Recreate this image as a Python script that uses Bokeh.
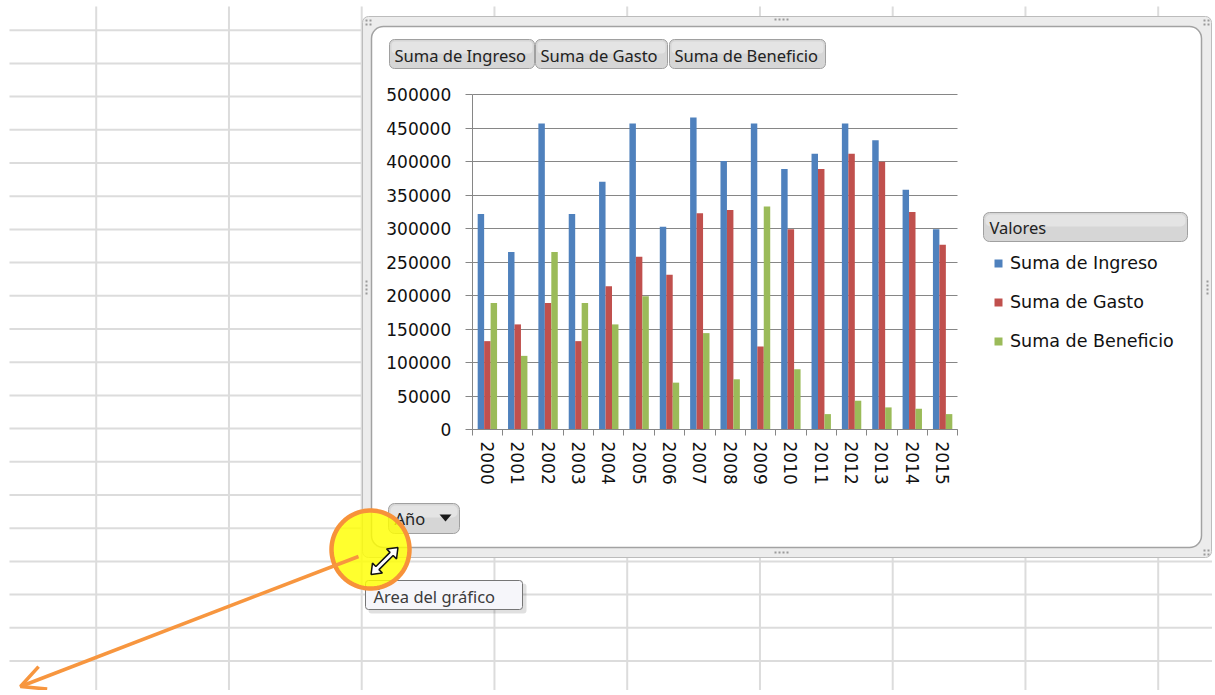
import numpy as np
from bokeh.plotting import figure
from bokeh.models import (Range1d, FixedTicker, BasicTickFormatter, BoxAnnotation, Label, Grid,
                          PolyAnnotation, Arrow, OpenHead, Legend, LegendItem, ColumnDataSource)
from bokeh.embed import file_html
from bokeh.resources import INLINE

# ---------------- data ----------------
years = ["2000", "2001", "2002", "2003", "2004", "2005", "2006", "2007",
         "2008", "2009", "2010", "2011", "2012", "2013", "2014", "2015"]
ingreso = [322000, 265000, 457000, 322000, 370000, 457000, 303000, 466000,
           401000, 457000, 389000, 412000, 457000, 432000, 358000, 299000]
gasto = [132000, 157000, 189000, 132000, 214000, 258000, 231000, 323000,
         328000, 124000, 299000, 389000, 412000, 400000, 325000, 276000]
beneficio = [189000, 110000, 265000, 189000, 157000, 199000, 70000, 144000,
             75000, 333000, 90000, 23000, 43000, 33000, 31000, 23000]
series_names = ["Suma de Ingreso", "Suma de Gasto", "Suma de Beneficio"]
colors = ["#4F81BD", "#C0504D", "#9BBB59"]
y_ticks = [0, 50000, 100000, 150000, 200000, 250000, 300000, 350000, 400000, 450000, 500000]
y_max = 500000

# ---------------- layout constants (pixels) ----------------
W, H = 1212, 690
PLOT_L, PLOT_R = 471.7, 957.3      # plot area left/right
PLOT_T, PLOT_B = 94.3, 429.0       # plot area top/bottom
n = len(years)
kx = (PLOT_R - PLOT_L) / n
ky = (PLOT_B - PLOT_T) / y_max
x_range = Range1d(-PLOT_L / kx, (W - PLOT_L) / kx)
y_range = Range1d(-(H - PLOT_B) / ky, y_max + PLOT_T / ky)

p = figure(width=W, height=H, x_range=x_range, y_range=y_range,
           output_backend="svg", toolbar_location=None,
           min_border=0, min_border_left=0, min_border_right=0,
           min_border_top=0, min_border_bottom=0)
p.outline_line_color = None
p.background_fill_color = "white"
p.border_fill_color = "white"

def sx(x):
    return x

def sy(y):
    return H - y

def box(l, t, r, b, level="annotation", **kw):
    kw.setdefault("line_alpha", 1)
    kw.setdefault("fill_alpha", 1)
    ba = BoxAnnotation(left=sx(l), right=sx(r), top=sy(t), bottom=sy(b),
                       left_units="screen", right_units="screen",
                       top_units="screen", bottom_units="screen", level=level, **kw)
    p.add_layout(ba)
    return ba

def label(x, y, text, size="16px", font="Noto Sans", color="#222222", align="left", level="annotation"):
    lb = Label(x=sx(x), y=sy(y), x_units="screen", y_units="screen", text=text,
               text_font=font, text_font_size=size, text_color=color,
               text_align=align, text_baseline="middle", level=level)
    p.add_layout(lb)
    return lb

def poly(xs, ys, level="overlay", **kw):
    kw.setdefault("line_alpha", 1)
    kw.setdefault("fill_alpha", 1)
    pa = PolyAnnotation(xs=[sx(v) for v in xs], ys=[sy(v) for v in ys],
                        xs_units="screen", ys_units="screen", level=level, **kw)
    p.add_layout(pa)
    return pa

# ---------------- spreadsheet background ----------------
for k in range(21):
    yy = 29.7 + 33.2 * k
    box(9, yy - 1, W, yy + 1, level="image", fill_color="#dcdcdc", line_color=None)
for k in range(9):
    xx = 95.7 + 132.75 * k
    box(xx - 1, 6, xx + 1, H, level="image", fill_color="#dcdcdc", line_color=None)

# ---------------- chart object frame ----------------
box(362, 16, 1211, 557, level="image", fill_color="#ececec",
    line_color="#bcbcbc", line_width=1, border_radius=6)
box(371, 26, 1201, 547, level="image", fill_color="white",
    line_color="#a2a2a2", line_width=1.5, border_radius=12)
# selection handles
for dx in (0, 4, 8, 12):
    box(774 + dx, 18, 776 + dx, 20, level="image", fill_color="#9a9a9a", line_color=None)
    box(774 + dx, 551, 776 + dx, 553, level="image", fill_color="#9a9a9a", line_color=None)
    box(365, 280 + dx, 367, 282 + dx, level="image", fill_color="#9a9a9a", line_color=None)
    box(1206, 280 + dx, 1208, 282 + dx, level="image", fill_color="#9a9a9a", line_color=None)
for hx, hy in [(365, 19), (1203, 19), (1203, 549)]:
    for ddx in (0, 4):
        for ddy in (0, 4):
            box(hx + ddx, hy + ddy, hx + ddx + 2, hy + ddy + 2, level="image",
                fill_color="#9a9a9a", line_color=None)

grey = "#868686"

# ---------------- grid ----------------
p.xgrid.visible = False
p.ygrid.ticker = FixedTicker(ticks=y_ticks)
p.ygrid.bounds = (0, y_max)
if "cross_bounds" in Grid.properties():
    p.ygrid.cross_bounds = (0, n)
    p.ygrid.grid_line_color = grey
    p.ygrid.grid_line_width = 1
else:
    p.ygrid.visible = False
    p.segment(x0=[0] * len(y_ticks), x1=[n] * len(y_ticks), y0=y_ticks, y1=y_ticks,
              line_color=grey, line_width=1)

# ---------------- bars ----------------
centers = np.arange(n) + 0.5
bw = 0.213
src = ColumnDataSource(dict(x=centers, years=years, ingreso=ingreso, gasto=gasto, beneficio=beneficio))
renderers = []
for i, (col, c) in enumerate(zip(["ingreso", "gasto", "beneficio"], colors)):
    src.data["x_" + col] = centers + (i - 1) * bw
    r = p.vbar(x="x_" + col, top=col, width=bw, source=src, fill_color=c, line_color=None)
    renderers.append(r)

# ---------------- axes ----------------
ya = p.yaxis[0]
ya.fixed_location = 0
ya.bounds = (0, y_max)
ya.ticker = FixedTicker(ticks=y_ticks)
ya.formatter = BasicTickFormatter(use_scientific=False)
ya.axis_line_color = grey
ya.major_tick_line_color = grey
ya.major_tick_out = 7
ya.major_tick_in = 0
ya.minor_tick_line_color = None
ya.major_label_standoff = 14
ya.major_label_text_font = "DejaVu Sans"
ya.major_label_text_font_size = "17px"
ya.major_label_text_color = "#111111"

xa = p.xaxis[0]
xa.fixed_location = 0
xa.bounds = (0, n)
xa.ticker = FixedTicker(ticks=list(centers), minor_ticks=list(np.arange(n + 1)))
xa.major_label_overrides = {float(c): y for c, y in zip(centers, years)}
xa.axis_line_color = grey
xa.major_tick_line_color = None
xa.major_tick_out = 6
xa.major_tick_in = 0
xa.minor_tick_line_color = grey
xa.minor_tick_out = 6
xa.minor_tick_in = 0
xa.major_label_orientation = "vertical"
xa.major_label_standoff = 6
xa.major_label_text_font = "DejaVu Sans"
xa.major_label_text_font_size = "17px"
xa.major_label_text_color = "#111111"

# ---------------- field buttons ----------------
btn_fill = "#d6d6d6"
btn_line = "#a0a0a0"
for (l, r), name in zip([(389, 534), (535, 667), (669, 825)], series_names):
    box(l, 39, r, 68, fill_color=btn_fill, line_color=btn_line, border_radius=5)
    box(l + 2, 41, r - 2, 53, fill_color="#e4e4e4", line_color=None, border_radius=4)
    label(l + 5, 54.5, name, size="16.5px")

# "Valores" button
box(983, 212, 1187, 241, fill_color=btn_fill, line_color=btn_line, border_radius=6)
box(985, 214, 1185, 226, fill_color="#e4e4e4", line_color=None, border_radius=5)
label(989, 227, "Valores", size="16.5px")

# "Año" button
box(388, 503, 459, 533, fill_color=btn_fill, line_color=btn_line, border_radius=6)
box(390, 505, 457, 517, fill_color="#e4e4e4", line_color=None, border_radius=5)
label(394, 518, "Año", size="16.5px")
poly([439, 451, 445], [514, 514, 521], level="annotation", fill_color="#1a1a1a", line_color=None)

# ---------------- legend ----------------
legend = Legend(items=[LegendItem(label=nm, renderers=[r]) for nm, r in zip(series_names, renderers)],
                location=(sx(993), H - 351.5), orientation="vertical",
                glyph_width=10, glyph_height=10, label_standoff=7, spacing=18,
                label_height=21, padding=0, margin=0,
                label_text_font="DejaVu Sans", label_text_font_size="17.5px",
                label_text_color="#111111", border_line_color=None, background_fill_alpha=0)
p.add_layout(legend)

# ---------------- tooltip ----------------
box(368, 583, 526, 613, level="overlay", fill_color="#000000", fill_alpha=0.12, line_color=None, border_radius=3)
box(365, 580, 522, 609, level="overlay", fill_color="#f6f6fa",
    line_color="#767676", line_width=1, border_radius=3)
label(373, 595.5, "Área del gráfico", size="16.5px", color="#3c3c3c", level="overlay")

# ---------------- highlight circle ----------------
th = np.linspace(0, 2 * np.pi, 90, endpoint=False)
cx, cy, rad = 370, 549, 39
poly(list(cx + rad * np.cos(th)), list(cy + rad * np.sin(th)),
     fill_color="#ffff00", fill_alpha=0.82, line_color="#f7923a", line_width=4.5)

# resize cursor (double arrow)
u = np.array([1.0, -1.0]) / np.sqrt(2)
v = np.array([1.0, 1.0]) / np.sqrt(2)
C = np.array([384.0, 560.5])
L, hl, hw, sw = 19, 9, 7, 2.2
shape = [(L, 0), (L - hl, hw), (L - hl, sw), (-L + hl, sw), (-L + hl, hw), (-L, 0),
         (-L + hl, -hw), (-L + hl, -sw), (L - hl, -sw), (L - hl, -hw)]
pts = [C + a * u + b * v for a, b in shape]
poly([q[0] for q in pts], [q[1] for q in pts], fill_color="white",
     line_color="#111111", line_width=1.5)

# orange arrow
arrow = Arrow(x_start=sx(358), y_start=sy(556), x_end=sx(20), y_end=sy(686),
              start_units="screen", end_units="screen",
              line_color="#f7963f", line_width=3.5, level="overlay",
              end=OpenHead(size=24, line_color="#f7963f", line_width=3.5))
p.add_layout(arrow)

open("out.html", "w").write(file_html(p, INLINE))
